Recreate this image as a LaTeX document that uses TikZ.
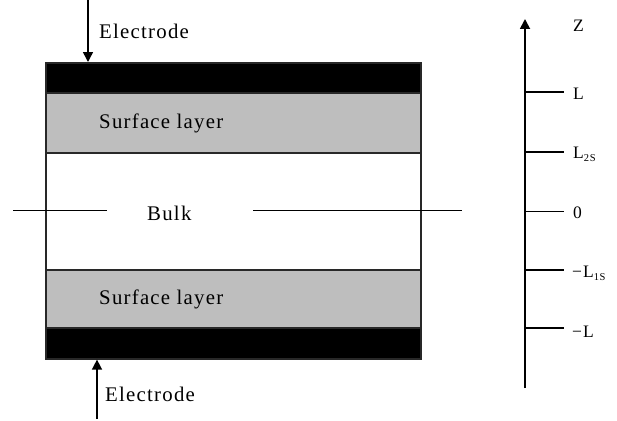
\documentclass[tikz,border=0pt]{standalone}
\usepackage{fontspec}
\setmainfont{Liberation Serif}[LetterSpace=6]
\usetikzlibrary{arrows.meta}
\definecolor{layergray}{RGB}{190,190,190}
\definecolor{edgegray}{RGB}{40,40,40}
\newcommand{\axsub}[1]{\raisebox{-3pt}{\fontsize{10.5}{12}\selectfont #1}}
\begin{document}
\begin{tikzpicture}[x=1pt,y=-1pt,
  layer/.style={anchor=north west, inner sep=0pt, minimum width=375pt, draw=edgegray, line width=1.6pt},
  big/.style={font=\fontsize{20.8}{23}\selectfont, inner sep=0pt, anchor=base west},
  ax/.style={font=\fontsize{17.5}{20}\selectfont, inner sep=0pt, anchor=base west},
  tick/.style={line width=1.3pt},
  arr/.style={line width=1.5pt, -{Triangle[length=10pt,width=10pt]}}]
\useasboundingbox (0,0) rectangle (617,420);
% layers
\node[layer, fill=black, minimum height=30pt] (topel) at (45,62) {};
\node[layer, fill=layergray, minimum height=60pt] (topsurf) at (45,92) {};
\node[layer, fill=white, minimum height=117pt] (bulk) at (45,152) {};
\node[layer, fill=layergray, minimum height=58pt] (botsurf) at (45,269) {};
\node[layer, fill=black, minimum height=31pt] (botel) at (45,327) {};
% texts
\node[big] (t1) at (99,128) {Surface layer};
\node[big] (t2) at (99,304) {Surface layer};
\node[big] (tb) at (147,220) {Bulk};
\node[big] (e1) at (99,38) {Electrode};
\node[big] (e2) at (105,401) {Electrode};
% center line
\coordinate (cl1) at (13,210);
\coordinate (cl2) at (107,210);
\coordinate (cr1) at (253,210);
\coordinate (cr2) at (462,210);
\draw[line width=0.8pt] (cl1) -- (cl2);
\draw[line width=0.8pt] (cr1) -- (cr2);
% electrode arrows
\coordinate (a1) at (88,0);
\coordinate (a2) at (97,419);
\draw[arr] (a1) -- (a1 |- topel.north);
\draw[arr] (a2) -- (a2 |- botel.south);
% axis
\coordinate (zb) at (525,388);
\coordinate (zt) at (525,19);
\draw[arr, line width=1.8pt] (zb) -- (zt);
\node[ax] (z) at (573,32) {Z};
\node[ax] (lL) at (573,99) {L};
\node[ax] (l2s) at (573,158) {L\axsub{2S}};
\node[ax] (l0) at (573,218) {0};
\node[ax] (l1s) at (572,277) {−L\axsub{1S}};
\node[ax] (lmL) at (572,337) {−L};
\draw[tick] (525,92) -- (564,92);
\draw[tick] (525,152) -- (564,152);
\draw[tick, line width=0.9pt] (525,211) -- (564,211);
\draw[tick] (525,270) -- (564,270);
\draw[tick, line width=2pt] (545,270) -- (564,270);
\draw[tick] (525,328) -- (564,328);
\end{tikzpicture}
\end{document}
